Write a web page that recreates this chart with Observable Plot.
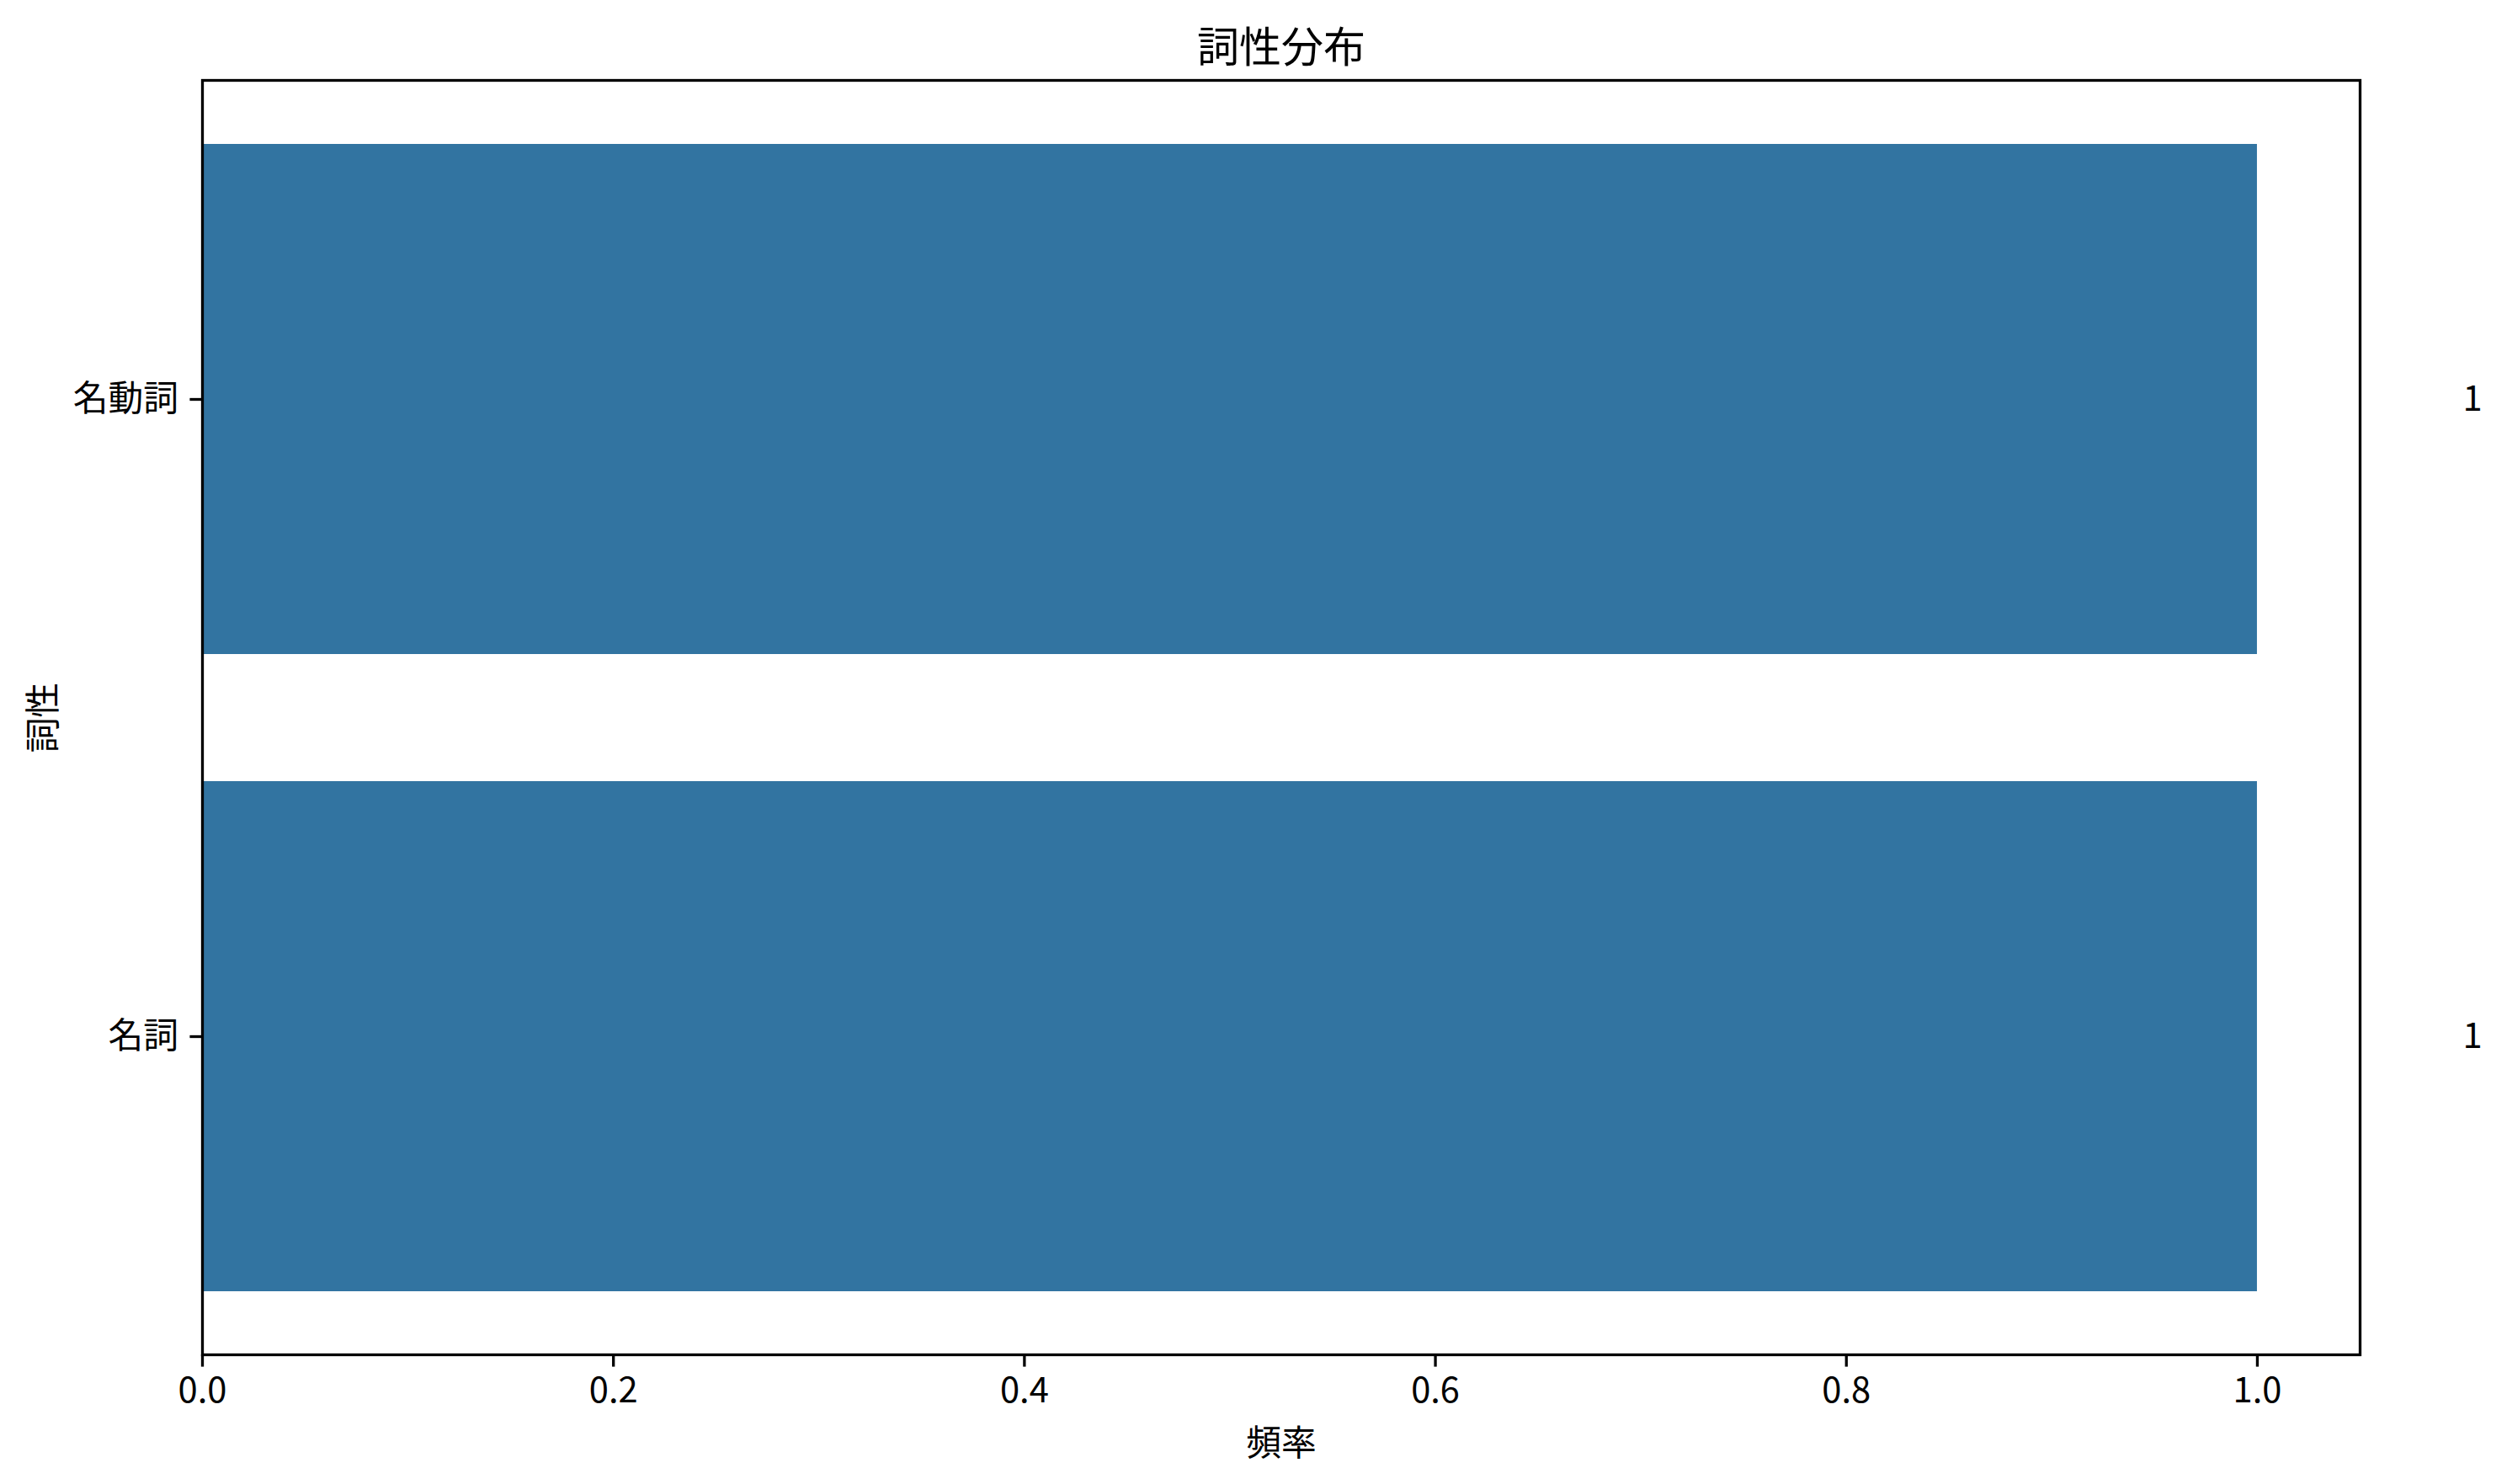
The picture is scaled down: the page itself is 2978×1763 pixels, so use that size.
<!DOCTYPE html>
<html>
<head>
<meta charset="utf-8">
<script src="https://cdn.jsdelivr.net/npm/d3@7"></script>
<script src="https://cdn.jsdelivr.net/npm/@observablehq/plot@0.6"></script>
<style>
  html, body { margin: 0; padding: 0; background: #fff; }
  svg { display: block; }
</style>
</head>
<body>
<div id="chart"></div>
<script>
const categories = ["名動詞", "名詞"];
const values = [1, 1];
const xTicks = [0, 0.2, 0.4, 0.6, 0.8, 1.0];
const title = "詞性分布";
const xLabel = "頻率";
const yLabel = "詞性";

const data = categories.map((c, i) => ({category: c, value: values[i]}));

const FONT = "'Noto Sans CJK JP', 'Noto Sans', sans-serif";
const FS = 41.7;

const chart = Plot.plot({
  width: 2978,
  height: 1763,
  marginLeft: 240,
  marginRight: 175,
  marginTop: 95,
  marginBottom: 154,
  style: {fontFamily: FONT, fontSize: FS + "px", background: "#fff", color: "#000"},
  x: {domain: [0, 1.05]},
  y: {domain: categories, paddingInner: 0.2, paddingOuter: 0.1},
  marks: [
    Plot.barX(data, {x: "value", y: "category", fill: "#3274a1"}),
    Plot.frame({stroke: "#000", strokeWidth: 3.3}),
    Plot.axisX({ticks: xTicks, tickFormat: d3.format(".1f"), tickSize: 14.6, tickPadding: 12, strokeWidth: 3.3, fontSize: FS, fontFamily: FONT, label: null, fill: "#000"}),
    Plot.axisY({tickSize: 14.6, tickPadding: 14, strokeWidth: 3.3, fontSize: FS, fontFamily: FONT, label: null, fill: "#000"}),
    Plot.text(data, {x: d => d.value + 0.1, y: "category", text: d => String(d.value), textAnchor: "start", fontSize: FS, fontFamily: FONT, fill: "#000", clip: false}),
    Plot.text([title], {frameAnchor: "top", dy: -38, fontSize: 50, fontFamily: FONT, fill: "#000", textAnchor: "middle", lineAnchor: "middle"}),
    Plot.text([xLabel], {frameAnchor: "bottom", dy: 106, fontSize: FS, fontFamily: FONT, fill: "#000", textAnchor: "middle", lineAnchor: "middle"}),
    Plot.text([yLabel], {frameAnchor: "left", dx: -188, rotate: -90, fontSize: FS, fontFamily: FONT, fill: "#000", textAnchor: "middle", lineAnchor: "middle"})
  ]
});
document.getElementById("chart").appendChild(chart);
</script>
</body>
</html>
